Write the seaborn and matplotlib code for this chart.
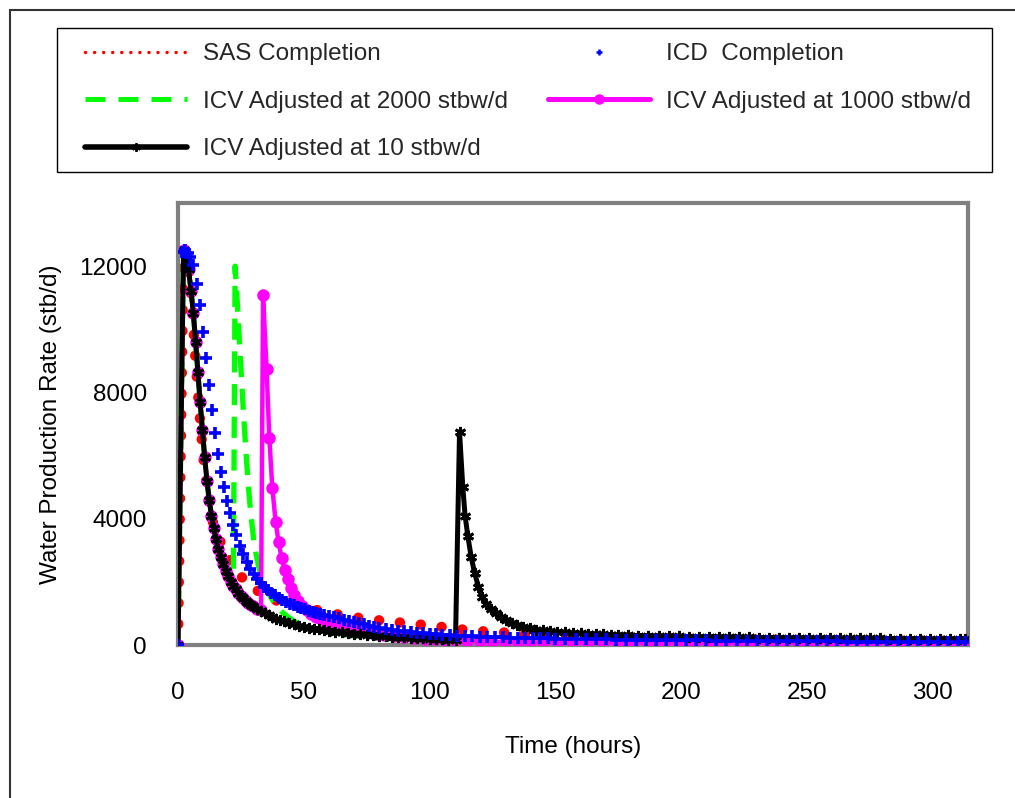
import matplotlib
matplotlib.use("Agg")
import matplotlib.pyplot as plt
from matplotlib.lines import Line2D
from matplotlib.patches import Rectangle
import seaborn as sns

# --- data (hours, stb/d) ---
# response of the fully open well, shared by the three ICV cases until they are adjusted
early_hours = [0, 2.2, 3.2, 4.2, 5.2, 6.1, 7.0, 7.9, 8.8, 9.7, 10.6, 11.5, 12.4, 13.3, 14.2,
               15.1, 16.0, 17.0, 18.0, 19.0, 20.0, 21.0, 22.0, 23.0, 24.0, 25.0, 26.0, 27.0,
               28.0, 29.0, 30.0, 31.5]
early_rate = [0, 12500, 12350, 11900, 11200, 10500, 9600, 8650, 7700, 6800, 5950, 5200, 4600,
              4100, 3700, 3350, 3050, 2780, 2550, 2350, 2170, 2010, 1880, 1760, 1650, 1560,
              1480, 1400, 1335, 1275, 1220, 1140]

sas_hours = [0, 2.2, 3.0, 4.0, 5.0, 6.0, 7.0, 8.0, 9.0, 10.0, 11.0, 12.0, 13.0, 14.0, 15.0,
             16.0, 17.0, 19.0, 21.0, 23.0, 25.0, 28.0, 31.0, 35.0, 39.0, 45.0, 50.0, 55.0,
             62.0, 70.0, 79.0, 86.0, 96.0, 105.0, 112.0, 118.0, 125.0, 133.0, 141.0, 150.0,
             170.0, 200.0, 250.0, 313.0]
sas_rate = [0, 12500, 12500, 12000, 11200, 10200, 9000, 7900, 6900, 6000, 5300, 4700, 4200,
            3850, 3600, 3400, 3250, 2950, 2650, 2400, 2180, 1920, 1750, 1560, 1410, 1280,
            1190, 1110, 990, 880, 790, 730, 650, 570, 500, 450, 415, 380, 320, 290, 240,
            200, 160, 130]

icd_hours = [0, 1.6, 2.8, 4.0, 4.9, 6.1, 7.4, 8.7, 10.0, 11.3, 12.4, 13.6, 14.7, 15.8, 17.0,
             18.2, 19.3, 20.5, 21.8, 23.1, 24.5, 25.9, 27.3, 28.7, 30.1, 31.5, 32.9, 34.3,
             35.7, 37.1, 38.5, 40.0, 41.5, 43.0, 44.5, 46.0, 47.5, 49.0, 50.5, 52.0, 53.5,
             55.0, 56.5, 58.0, 60.0, 62.0, 64.0, 66.0, 68.0, 70.0, 72.0, 74.0, 76.0, 78.0,
             80.0, 82.5, 85.0, 87.5, 90.0, 92.5, 95.0, 97.5, 100.0, 102.5, 105.0, 108.0,
             111.0, 114.0, 117.0, 120.0, 123.0, 126.0, 129.0, 132.0, 135.0, 138.0, 141.0,
             144.0, 147.0, 150.0, 154, 158, 162, 166, 170, 174, 178, 182, 186, 190, 194, 198,
             202, 206, 210, 214, 218, 222, 226, 230, 234, 238, 242, 246, 250, 254, 258, 262,
             266, 270, 274, 278, 282, 286, 290, 294, 298, 302, 306, 310, 313]
icd_rate = [0, 12450, 12500, 12420, 12300, 12030, 11450, 10760, 9915, 9100, 8250, 7440, 6720,
            6050, 5470, 4990, 4560, 4170, 3810, 3480, 3150, 2870, 2630, 2420, 2240, 2090,
            1960, 1850, 1750, 1660, 1580, 1500, 1430, 1370, 1310, 1260, 1210, 1165, 1125,
            1085, 1050, 1015, 985, 955, 915, 875, 840, 800, 765, 730, 690, 650, 610, 575,
            545, 510, 480, 455, 430, 410, 390, 370, 350, 335, 320, 305, 292, 280, 270, 261,
            253, 246, 240, 234, 228, 223, 218, 213, 208, 203, 197, 192, 187, 182, 178, 174,
            170, 166, 162, 158, 155, 152, 149, 146, 143, 140, 137, 134, 131, 128, 126, 124,
            122, 120, 118, 116, 114, 112, 110, 108, 106, 104, 102, 100, 98, 96, 94, 92, 90,
            88, 87]

icv2000_hours = [22.7, 23.6, 24.5, 25.4, 26.3, 27.2, 28.1, 29.0, 30.0, 31.0, 32.0, 33.5, 35.0,
                 37.0, 39.0, 41.0, 43.5, 46.0, 49.0, 52.0, 56.0, 60.0, 65.0, 70.0, 80.0,
                 90.0, 100.0, 115.0, 130.0, 150.0, 175.0, 200.0, 230.0, 260.0, 290.0, 313.0]
icv2000_rate = [12000, 10800, 9500, 8200, 7000, 5900, 4900, 4100, 3400, 2900, 2500, 2100,
                1800, 1500, 1250, 1070, 900, 760, 640, 550, 470, 400, 340, 290, 220, 175,
                145, 115, 95, 78, 64, 55, 47, 41, 36, 33]

icv1000_hours = [33.0, 33.8, 35.2, 36.3, 37.5, 38.8, 40.0, 41.2, 42.4, 43.6, 44.9, 46.3, 47.8,
                 49.4, 51.1, 52.9, 54.8, 56.8, 59, 61.5, 64, 67, 70, 73, 76, 79, 82, 86, 90,
                 94, 98, 102, 106, 110, 115, 120, 125, 130, 135, 140, 145, 151, 157, 163,
                 169, 175, 181, 187, 193, 199, 205, 211, 217, 223, 229, 235, 241, 247, 253,
                 259, 265, 271, 277, 283, 289, 295, 301, 307, 313]
icv1000_rate = [1100, 11100, 8750, 6560, 4960, 3900, 3250, 2750, 2380, 2080, 1820, 1590, 1400,
                1240, 1100, 990, 900, 820, 745, 670, 610, 550, 495, 445, 400, 360, 325, 285,
                250, 220, 195, 175, 158, 143, 128, 115, 104, 95, 88, 82, 77, 72, 67, 63, 59,
                55, 52, 49, 46, 44, 42, 40, 38, 36, 34, 33, 31, 30, 29, 28, 27, 26, 25, 24,
                23, 22, 21, 20, 20]

icv10_hours = [33.0, 34.5, 36.0, 37.5, 39.0, 40.5, 42.0, 44.0, 46.0, 48.0, 50.0, 52.0, 54.0,
               56.0, 58.0, 60.0, 62.5, 65.0, 67.5, 70.0, 72.5, 75.0, 77.5, 80.0, 82.5, 85.0,
               87.5, 90.0, 92.5, 95.0, 97.5, 100.0, 102.5, 105.0, 107.5, 110.3, 111.9, 113.2,
               114.1, 115.2, 116.5, 117.9, 119.4, 121.0, 122.6, 124.4, 126.3, 128.3, 130.4,
               132.6, 134.9, 137.3, 139.8, 142.4, 145.1, 147.9, 150.8, 154, 157, 160, 163,
               166, 169, 172, 175, 179, 183, 187, 191, 195, 199, 203, 207, 211, 215, 219,
               223, 227, 231, 235, 239, 243, 247, 251, 255, 259, 263, 267, 271, 275, 279,
               283, 287, 291, 295, 299, 303, 307, 311, 313]
icv10_rate = [1070, 1000, 940, 885, 835, 790, 750, 700, 655, 615, 580, 550, 520, 495, 470,
              450, 425, 400, 380, 360, 340, 325, 310, 295, 280, 265, 252, 240, 228, 218, 208,
              198, 190, 180, 172, 165, 6750, 5000, 4100, 3450, 2800, 2280, 1850, 1520, 1300,
              1130, 1000, 890, 790, 710, 640, 580, 530, 490, 460, 435, 415, 398, 383, 370,
              358, 347, 337, 327, 318, 308, 300, 293, 286, 280, 274, 268, 263, 258, 253, 249,
              245, 241, 237, 234, 231, 228, 225, 222, 219, 216, 214, 212, 210, 208, 206, 204,
              202, 200, 198, 196, 194, 192, 190, 189]

series_labels = ["SAS Completion", "ICD  Completion", "ICV Adjusted at 2000 stbw/d",
                 "ICV Adjusted at 1000 stbw/d", "ICV Adjusted at 10 stbw/d"]
x_ticks = [0, 50, 100, 150, 200, 250, 300]
y_ticks = [0, 4000, 8000, 12000]

# each ICV case = open-well response until adjustment, then its own record
n2000 = early_hours.index(22.0) + 1
icv2000_t = early_hours[:n2000] + icv2000_hours
icv2000_q = early_rate[:n2000] + icv2000_rate
icv1000_t = early_hours + icv1000_hours
icv1000_q = early_rate + icv1000_rate
icv10_t = early_hours + icv10_hours
icv10_q = early_rate + icv10_rate

sns.set_theme(style="white")
plt.rcParams["font.family"] = ["Liberation Sans", "DejaVu Sans"]
FS = 17.5

fig = plt.figure(figsize=(10.15, 7.98), dpi=100)
ax = fig.add_axes([178 / 1015, 1 - 645 / 798, 790 / 1015, 442 / 798])

red, blue, green, magenta = "#ff0000", "#0000ff", "#00ff00", "#ff00ff"

sns.lineplot(x=sas_hours, y=sas_rate, ax=ax, color=red, lw=7.5, linestyle=(0, (0.01, 2.0)),
             dash_capstyle="round", estimator=None, sort=False, zorder=2)
sns.lineplot(x=icv2000_t, y=icv2000_q, ax=ax, color=green, lw=3.8, linestyle=(0, (4, 2.2)),
             estimator=None, sort=False, zorder=3)
sns.lineplot(x=icv1000_t, y=icv1000_q, ax=ax, color=magenta, lw=3.2, marker="o",
             markersize=9, markeredgewidth=0, estimator=None, sort=False, zorder=4)
sns.lineplot(x=icv10_t, y=icv10_q, ax=ax, color="black", lw=3.6, marker=(6, 2, 0),
             markersize=8, markeredgewidth=2.0, markeredgecolor="black",
             estimator=None, sort=False, zorder=5)
sns.scatterplot(x=icd_hours, y=icd_rate, ax=ax, color=blue, marker="+", s=70,
                linewidth=2.6, zorder=6)

ax.set_xlim(0, 314)
ax.set_ylim(0, 14000)
ax.set_xticks(x_ticks)
ax.set_yticks(y_ticks)
ax.tick_params(axis="both", direction="out", length=4.5, width=1, color="black",
               labelsize=FS, labelcolor="black")
ax.tick_params(axis="y", pad=18)
ax.tick_params(axis="x", pad=22)
for side in ["left", "right", "top", "bottom"]:
    ax.spines[side].set_visible(True)
    ax.spines[side].set_color("#808080")
    ax.spines[side].set_linewidth(3)
ax.set_xlabel("Time (hours)", fontsize=FS, color="black", labelpad=23)
ax.set_ylabel("Water Production Rate (stb/d)", fontsize=FS, color="black", labelpad=12)

# outer chart border (extends past the right and bottom edges)
fig.patches.append(Rectangle((10 / 1015, -0.2), 1.5, 1.2 - 10 / 798, transform=fig.transFigure,
                             fill=False, ec="#333333", lw=1.5))
# legend frame
fig.patches.append(Rectangle((57 / 1015, 1 - 172 / 798), 935 / 1015, 144 / 798,
                             transform=fig.transFigure, fill=False, ec="black", lw=1.0))

h_sas = Line2D([], [], color=red, lw=2.5, linestyle=(0, (0.01, 2.6)), dash_capstyle="round")
h_icd = Line2D([], [], color=blue, linestyle="none", marker="+", markersize=5,
               markeredgewidth=1.8)
h_2000 = Line2D([], [], color=green, lw=3.6, linestyle=(0, (4, 2.6)))
h_1000 = Line2D([], [], color=magenta, lw=3.6, marker="o", markersize=6.5)
h_10 = Line2D([], [], color="black", lw=4, marker=(6, 2, 0), markersize=6, markeredgewidth=1.5)
# matplotlib fills legend columns first, so order them to read row by row
handles = [h_sas, h_2000, h_10, h_icd, h_1000]
labels = [series_labels[0], series_labels[2], series_labels[4], series_labels[1],
          series_labels[3]]
fig.legend(handles, labels, ncol=2, frameon=False, loc="upper left",
           bbox_to_anchor=(85 / 1015, 1 - 43 / 798), fontsize=FS, borderpad=0,
           borderaxespad=0, handlelength=4.2, handletextpad=0.66, columnspacing=1.65,
           labelspacing=1.05, numpoints=1)

fig.savefig("out.png", dpi=100, facecolor="white")
